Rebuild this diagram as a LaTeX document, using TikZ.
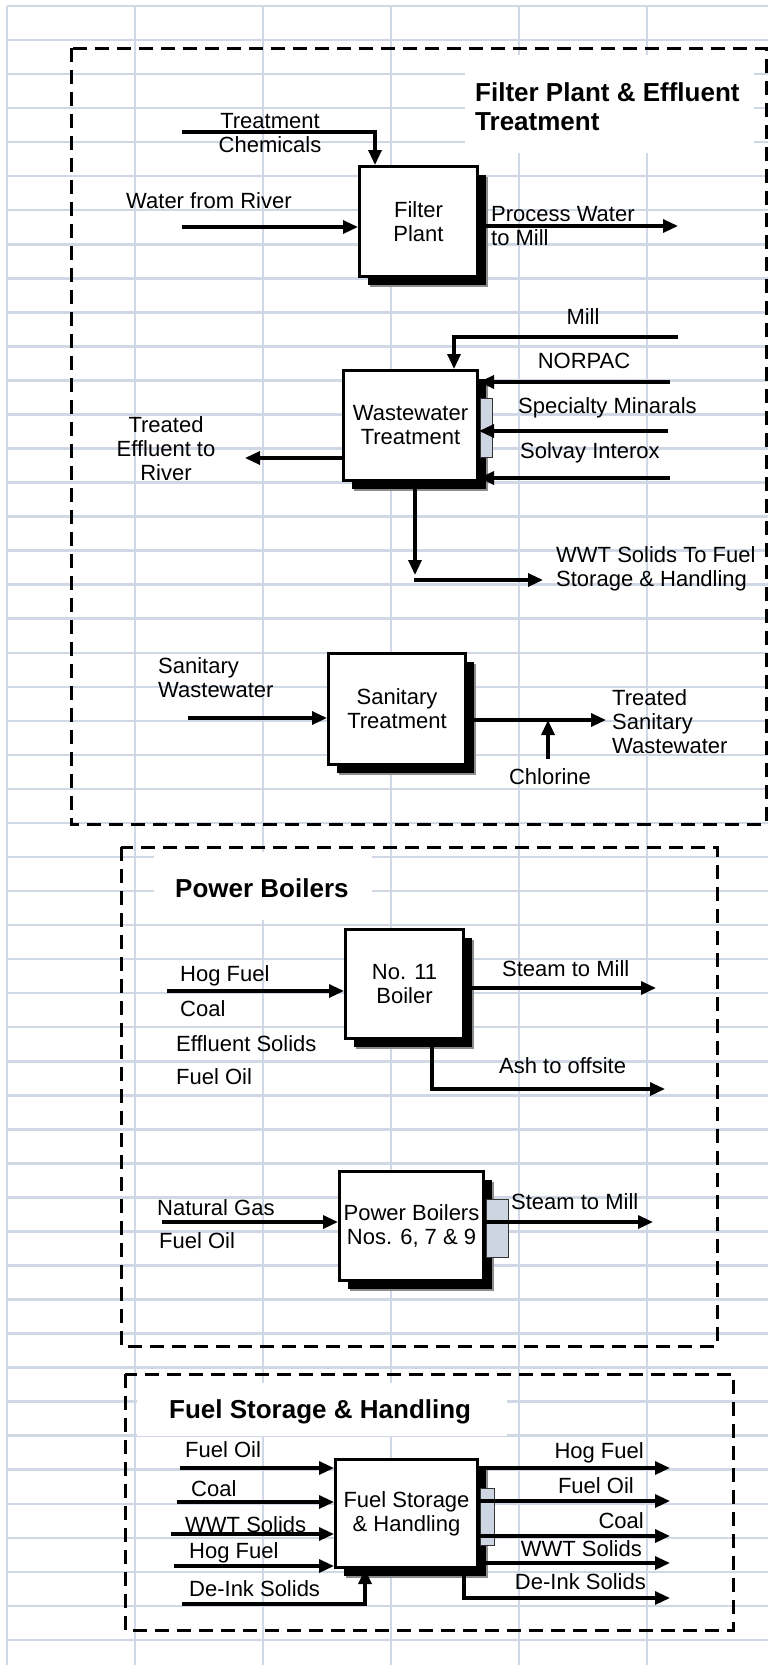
\documentclass[tikz,border=0pt]{standalone}
\usepackage{fontspec}
\setmainfont{Liberation Sans}
\usepackage{tikz}
\usetikzlibrary{arrows.meta, shadows}
\definecolor{gridblue}{RGB}{208,216,229}
\definecolor{portblue}{RGB}{206,213,226}
\definecolor{mydark}{RGB}{0,0,0}
\tikzset{
  procbox/.style={rectangle, draw=black, fill=white, line width=3pt,
    align=center, inner sep=0pt, font=\fontsize{22}{24}\selectfont,
    drop shadow={shadow xshift=10pt, shadow yshift=-10pt, fill=black!45, draw=none, opacity=1},
    drop shadow={shadow xshift=8pt, shadow yshift=-8pt, fill=black, draw=none, opacity=1}},
  port/.style={rectangle, draw=black!80, fill=portblue, line width=0.8pt, inner sep=0pt},
  lbl/.style={inner sep=0pt, font=\fontsize{22}{24}\selectfont},
  hdr/.style={inner sep=0pt, align=left, font=\fontsize{26}{29}\selectfont\bfseries},
  region/.style={draw=black, line width=3pt, dash pattern=on 14pt off 8pt},
  arrow/.style={-{Triangle[length=15pt, width=13pt]}, line width=3.2pt, color=mydark},
  line/.style={line width=3.2pt, color=mydark},
  gridline/.style={draw=gridblue, line width=2.5pt}
}
\begin{document}
\begin{tikzpicture}[x=1pt, y=-1pt]
  \useasboundingbox[fill=white] (0,0) rectangle (768,1665);
  \foreach \gx in {7,135,263,391,519,647}
    \draw[gridline] (\gx,6) -- (\gx,1665);
  \foreach \k in {0,...,48}
    \draw[gridline] (7,{6+34.04*\k}) -- (768,{6+34.04*\k});
  \fill[white] (465,55) rectangle (754,153);
  \fill[white] (154,852) rectangle (372,920);
  \fill[white] (137,1383) rectangle (507,1436);

  \draw[region] (71,48) rectangle (766,824);
  \draw[region] (121,847) rectangle (717,1346);
  \draw[region] (125,1374) rectangle (733,1630);

  % filter plant & effluent treatment
  \node[hdr, anchor=west] (hdrfilter) at (475,106.5) {Filter Plant \& Effluent\\Treatment};
  \node[procbox, minimum width=118pt, minimum height=110pt] (fp) at (418.5,221.5) {Filter\\Plant};
  \node[procbox, minimum width=134pt, minimum height=110pt] (ww) at (410.5,425.5) {Wastewater\\Treatment};
  \node[port, minimum width=12pt, minimum height=59pt] (wwport) at (486,427.5) {};
  \node[procbox, minimum width=137pt, minimum height=111pt] (st) at (397,709) {Sanitary\\Treatment};

  \coordinate (chem) at (182,132);
  \coordinate (chemturn) at (375,132);
  \draw[arrow] (chem) -- (chemturn) -- (chemturn |- fp.north);
  \node[lbl, align=center] (chemlbl) at (270,133) {Treatment\\Chemicals};
  \coordinate (river) at (182,227);
  \draw[arrow] (river) -- (river -| fp.west);
  \node[lbl, anchor=west] (riverlbl) at (126,201) {Water from River};
  \coordinate (pwout) at (678,226);
  \draw[arrow] (pwout -| fp.east) -- (pwout);
  \node[lbl, anchor=west, align=left] (pwlbl) at (491,226) {Process Water\\to Mill};

  \coordinate (mill) at (678,337);
  \coordinate (millturn) at (454,337);
  \draw[arrow] (mill) -- (millturn) -- (millturn |- ww.north);
  \node[lbl] (milllbl) at (583,317) {Mill};
  \coordinate (norpac) at (670,382);
  \draw[arrow] (norpac) -- (norpac -| ww.east);
  \node[lbl] (norpaclbl) at (584,361) {NORPAC};
  \coordinate (smi) at (668,431);
  \draw[arrow] (smi) -- (smi -| ww.east);
  \node[lbl, anchor=west] (smilbl) at (518,408) {Specialty Minarals};
  \coordinate (solvay) at (670,478);
  \draw[arrow] (solvay) -- (solvay -| ww.east);
  \node[lbl, anchor=west] (solvaylbl) at (520,453) {Solvay Interox};
  \coordinate (effl) at (245,458);
  \draw[arrow] (effl -| ww.west) -- (effl);
  \node[lbl, align=center] (effllbl) at (166,449) {Treated\\Effluent to\\River};
  \coordinate (wwtdown) at (415,575);
  \draw[arrow] (wwtdown |- ww.south) -- (wwtdown);
  \coordinate (wwtstart) at (414,580);
  \coordinate (wwtend) at (543,580);
  \draw[arrow] (wwtstart) -- (wwtend);
  \node[lbl, anchor=west, align=left] (wwtlbl) at (556,569) {WWT Solids To Fuel\\Storage \& Handling};

  \coordinate (sanin) at (188,718);
  \draw[arrow] (sanin) -- (sanin -| st.west);
  \node[lbl, anchor=west, align=left] (saninlbl) at (158,677.5) {Sanitary\\Wastewater};
  \coordinate (sanout) at (606,720);
  \draw[arrow] (sanout -| st.east) -- (sanout);
  \coordinate (chlor) at (548,759);
  \draw[arrow] (chlor) -- (chlor |- sanout);
  \node[lbl] (chlorlbl) at (550,777) {Chlorine};
  \node[lbl, anchor=west, align=left] (sanoutlbl) at (612,722) {Treated\\Sanitary\\Wastewater};

  % power boilers
  \node[hdr, anchor=west] (hdrboil) at (175,888) {Power Boilers};
  \node[procbox, minimum width=118pt, minimum height=109pt] (b11) at (404.5,984) {No. 11\\Boiler};
  \node[procbox, minimum width=144pt, minimum height=109pt] (pb) at (411.5,1226) {Power Boilers\\Nos. 6, 7 \& 9};
  \node[port, minimum width=22pt, minimum height=58pt] (pbport) at (497,1228) {};

  \coordinate (hogin) at (167,991);
  \draw[arrow] (hogin) -- (hogin -| b11.west);
  \node[lbl, anchor=west] (hoglbl) at (180,976) {Hog Fuel};
  \node[lbl, anchor=west] (coallbl) at (180,1009) {Coal};
  \node[lbl, anchor=west] (efflsol) at (176,1044) {Effluent Solids};
  \node[lbl, anchor=west] (oillbl) at (176,1077) {Fuel Oil};
  \coordinate (steam) at (656,988);
  \draw[arrow] (steam -| b11.east) -- (steam);
  \node[lbl, anchor=west] (steamlbl) at (502,969) {Steam to Mill};
  \coordinate (ashturn) at (432,1089);
  \coordinate (ash) at (665,1089);
  \draw[arrow] (ashturn |- b11.south) -- (ashturn) -- (ash);
  \node[lbl, anchor=west] (ashlbl) at (499,1066) {Ash to offsite};

  \coordinate (gasin) at (162,1222);
  \draw[arrow] (gasin) -- (gasin -| pb.west);
  \node[lbl, anchor=west] (gaslbl) at (157,1208) {Natural Gas};
  \node[lbl, anchor=west] (pboillbl) at (159,1241) {Fuel Oil};
  \coordinate (pbsteam) at (653,1222);
  \draw[arrow] (pbsteam -| pb.east) -- (pbsteam);
  \node[lbl, anchor=west] (pbsteamlbl) at (511,1202) {Steam to Mill};

  % fuel storage & handling
  \node[hdr, anchor=west] (hdrfuel) at (169,1412) {Fuel Storage \& Handling};
  \node[procbox, minimum width=142pt, minimum height=108pt] (fsh) at (406.5,1513.5) {Fuel Storage\\\& Handling};
  \node[port, minimum width=14pt, minimum height=57pt] (fshport) at (487,1516.5) {};

  \coordinate (oilin) at (180,1468);
  \draw[arrow] (oilin) -- (oilin -| fsh.west);
  \node[lbl, anchor=west] (oilinlbl) at (185,1450) {Fuel Oil};
  \coordinate (coalin) at (177,1502);
  \draw[arrow] (coalin) -- (coalin -| fsh.west);
  \node[lbl, anchor=west] (coalinlbl) at (191,1489) {Coal};
  \coordinate (wwtin) at (171,1534);
  \draw[arrow] (wwtin) -- (wwtin -| fsh.west);
  \node[lbl, anchor=west] (wwtinlbl) at (185,1525) {WWT Solids};
  \coordinate (hogfin) at (174,1566);
  \draw[arrow] (hogfin) -- (hogfin -| fsh.west);
  \node[lbl, anchor=west] (hogfinlbl) at (189,1553) {Hog Fuel};
  \coordinate (deink) at (182,1604);
  \coordinate (deinkturn) at (365,1604);
  \draw[arrow] (deink) -- (deinkturn) -- (deinkturn |- fsh.south);
  \node[lbl, anchor=west] (deinklbl) at (189,1589) {De-Ink Solids};

  \coordinate (hogout) at (670,1468);
  \draw[arrow] (hogout -| fsh.east) -- (hogout);
  \node[lbl, anchor=east] (hogoutlbl) at (644,1453) {Hog Fuel};
  \coordinate (oilout) at (670,1501);
  \draw[arrow] (oilout -| fsh.east) -- (oilout);
  \node[lbl, anchor=east] (oiloutlbl) at (634,1486) {Fuel Oil};
  \coordinate (coalout) at (670,1536);
  \draw[arrow] (coalout -| fsh.east) -- (coalout);
  \node[lbl, anchor=east] (coaloutlbl) at (644,1521) {Coal};
  \coordinate (wwtout) at (670,1563);
  \draw[arrow] (wwtout -| fsh.east) -- (wwtout);
  \node[lbl, anchor=east] (wwtoutlbl) at (642,1549) {WWT Solids};
  \coordinate (deinkdrop) at (464,1598);
  \coordinate (deinkout) at (670,1598);
  \draw[arrow] (deinkdrop |- fsh.south) -- (deinkdrop) -- (deinkout);
  \node[lbl, anchor=east] (deinkoutlbl) at (646,1582) {De-Ink Solids};
\end{tikzpicture}
\end{document}
